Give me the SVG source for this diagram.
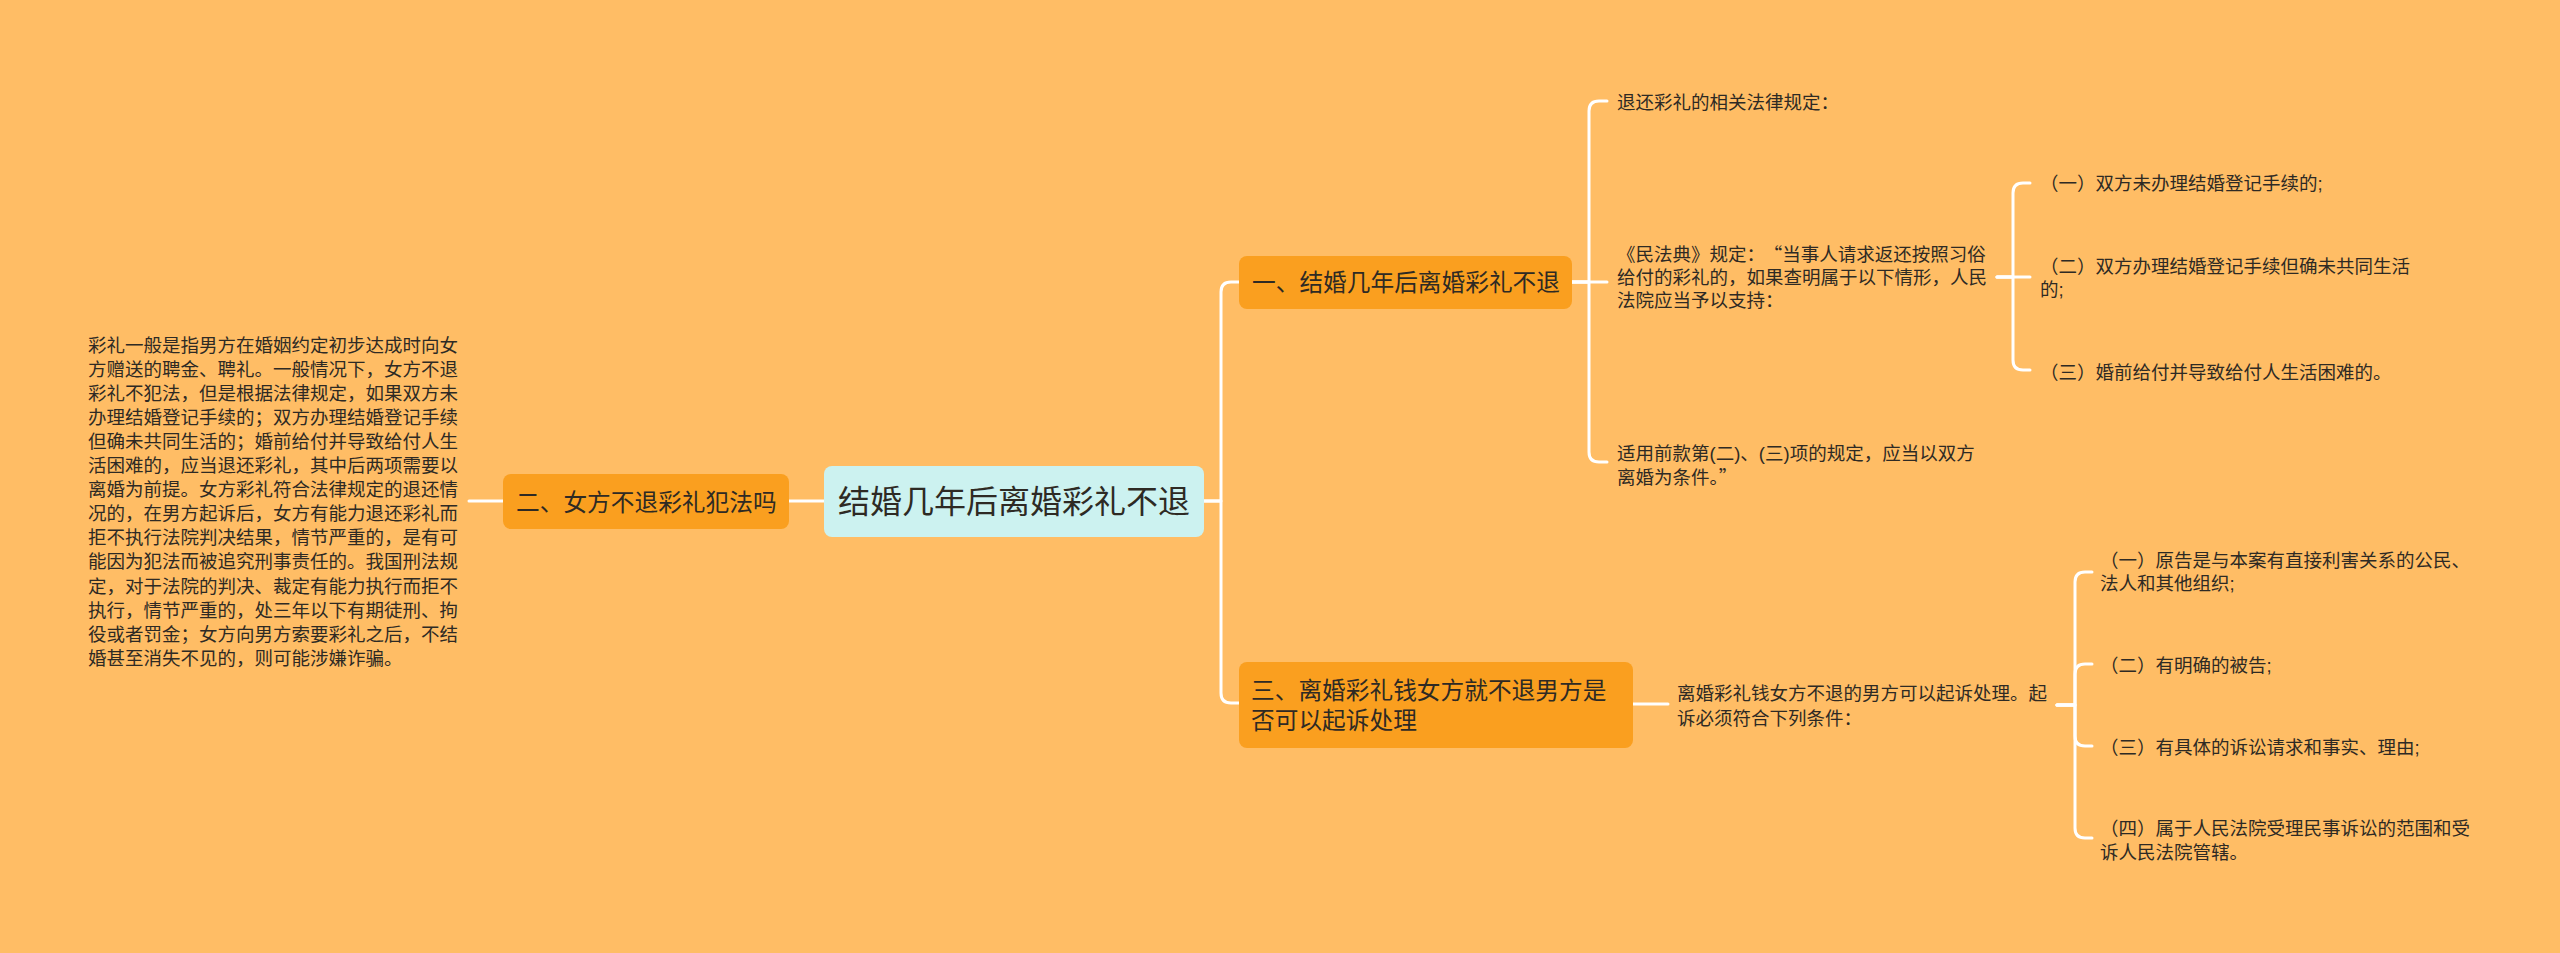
<svg xmlns="http://www.w3.org/2000/svg" width="2560" height="953" viewBox="0 0 2560 953">
<style>
.t{font-family:"Liberation Sans","Noto Sans CJK SC",sans-serif;fill:#2e2a24}
.q{font-family:"Noto Sans CJK SC","Liberation Sans",sans-serif}
.b{font-size:18.5px}
.n{font-size:23.7px}
.r{font-size:32px}
.c{fill:none;stroke:#ffffff;stroke-width:3;stroke-linecap:round;stroke-linejoin:round}
.o{fill:#fa9f1f}
</style>
<rect x="0" y="0" width="2560" height="953" fill="#ffbd65"/>
<g id="connectors">
<path class="c" d="M503 501 H469"/>
<path class="c" d="M789 501 H824"/>
<path class="c" d="M1204 501 H1221 V292 Q1221 282 1231 282 H1239"/>
<path class="c" d="M1204 501 H1221 V693 Q1221 703 1231 703 H1239"/>
<path class="c" d="M1572 282 H1589 V111 Q1589 101 1599 101 H1607"/>
<path class="c" d="M1572 282 H1607"/>
<path class="c" d="M1572 282 H1589 V452 Q1589 462 1599 462 H1607"/>
<path class="c" d="M1997 277 H2013 V193 Q2013 183 2023 183 H2030"/>
<path class="c" d="M1997 277 H2030"/>
<path class="c" d="M1997 277 H2013 V360 Q2013 370 2023 370 H2030"/>
<path class="c" d="M1633 704 H1668"/>
<path class="c" d="M2057 705 H2075 V582 Q2075 572 2085 572 H2092"/>
<path class="c" d="M2057 705 H2075 V674 Q2075 664 2085 664 H2092"/>
<path class="c" d="M2057 705 H2075 V736 Q2075 746 2085 746 H2092"/>
<path class="c" d="M2057 705 H2075 V828 Q2075 838 2085 838 H2092"/>
</g>
<g id="root">
<rect x="824" y="466" width="380" height="71" rx="8" fill="#ccf2f0"/>
<text class="t r" x="838" y="513">结婚几年后离婚彩礼不退</text>
</g>
<g id="node2">
<rect class="o" x="503" y="474" width="286" height="55" rx="8"/>
<text class="t n" x="516" y="511">二、女方不退彩礼犯法吗</text>
</g>
<g id="node2-text">
<text class="t b" x="88" y="351.5"><tspan x="88">彩礼一般是指男方在婚姻约定初步达成时向女</tspan><tspan x="88" dy="24.1">方赠送的聘金、聘礼。一般情况下，女方不退</tspan><tspan x="88" dy="24.1">彩礼不犯法，但是根据法律规定，如果双方未</tspan><tspan x="88" dy="24.1">办理结婚登记手续的；双方办理结婚登记手续</tspan><tspan x="88" dy="24.1">但确未共同生活的；婚前给付并导致给付人生</tspan><tspan x="88" dy="24.1">活困难的，应当退还彩礼，其中后两项需要以</tspan><tspan x="88" dy="24.1">离婚为前提。女方彩礼符合法律规定的退还情</tspan><tspan x="88" dy="24.1">况的，在男方起诉后，女方有能力退还彩礼而</tspan><tspan x="88" dy="24.1">拒不执行法院判决结果，情节严重的，是有可</tspan><tspan x="88" dy="24.1">能因为犯法而被追究刑事责任的。我国刑法规</tspan><tspan x="88" dy="24.1">定，对于法院的判决、裁定有能力执行而拒不</tspan><tspan x="88" dy="24.1">执行，情节严重的，处三年以下有期徒刑、拘</tspan><tspan x="88" dy="24.1">役或者罚金；女方向男方索要彩礼之后，不结</tspan><tspan x="88" dy="24.1">婚甚至消失不见的，则可能涉嫌诈骗。</tspan></text>
</g>
<g id="node1">
<rect class="o" x="1239" y="256" width="333" height="53" rx="8"/>
<text class="t n" x="1252" y="291">一、结婚几年后离婚彩礼不退</text>
</g>
<g id="node1-a">
<text class="t b" x="1617" y="109">退还彩礼的相关法律规定：</text>
</g>
<g id="node1-b">
<text class="t b" x="1617" y="261"><tspan x="1617">《民法典》规定：<tspan class="q" dx="8">“</tspan>当事人请求返还按照习俗</tspan><tspan x="1617" dy="23">给付的彩礼的，如果查明属于以下情形，人民</tspan><tspan x="1617" dy="23">法院应当予以支持：</tspan></text>
</g>
<g id="node1-c">
<text class="t b" x="1617" y="460"><tspan x="1617">适用前款第(二)、(三)项的规定，应当以双方</tspan><tspan x="1617" dy="24">离婚为条件。<tspan class="q">”</tspan></tspan></text>
</g>
<g id="node1-b1">
<text class="t b" x="2040" y="190">（一）双方未办理结婚登记手续的;</text>
</g>
<g id="node1-b2">
<text class="t b" x="2040" y="273"><tspan x="2040">（二）双方办理结婚登记手续但确未共同生活</tspan><tspan x="2040" dy="23">的;</tspan></text>
</g>
<g id="node1-b3">
<text class="t b" x="2040" y="379">（三）婚前给付并导致给付人生活困难的。</text>
</g>
<g id="node3">
<rect class="o" x="1239" y="662" width="394" height="86" rx="8"/>
<text class="t n" x="1251" y="699"><tspan x="1251">三、离婚彩礼钱女方就不退男方是</tspan><tspan x="1251" dy="30">否可以起诉处理</tspan></text>
</g>
<g id="node3-a">
<text class="t b" x="1677" y="700"><tspan x="1677">离婚彩礼钱女方不退的男方可以起诉处理。起</tspan><tspan x="1677" dy="25">诉必须符合下列条件：</tspan></text>
</g>
<g id="node3-a1">
<text class="t b" x="2100" y="567"><tspan x="2100">（一）原告是与本案有直接利害关系的公民、</tspan><tspan x="2100" dy="23">法人和其他组织;</tspan></text>
</g>
<g id="node3-a2">
<text class="t b" x="2100" y="672">（二）有明确的被告;</text>
</g>
<g id="node3-a3">
<text class="t b" x="2100" y="754">（三）有具体的诉讼请求和事实、理由;</text>
</g>
<g id="node3-a4">
<text class="t b" x="2100" y="835"><tspan x="2100">（四）属于人民法院受理民事诉讼的范围和受</tspan><tspan x="2100" dy="24">诉人民法院管辖。</tspan></text>
</g>
</svg>
